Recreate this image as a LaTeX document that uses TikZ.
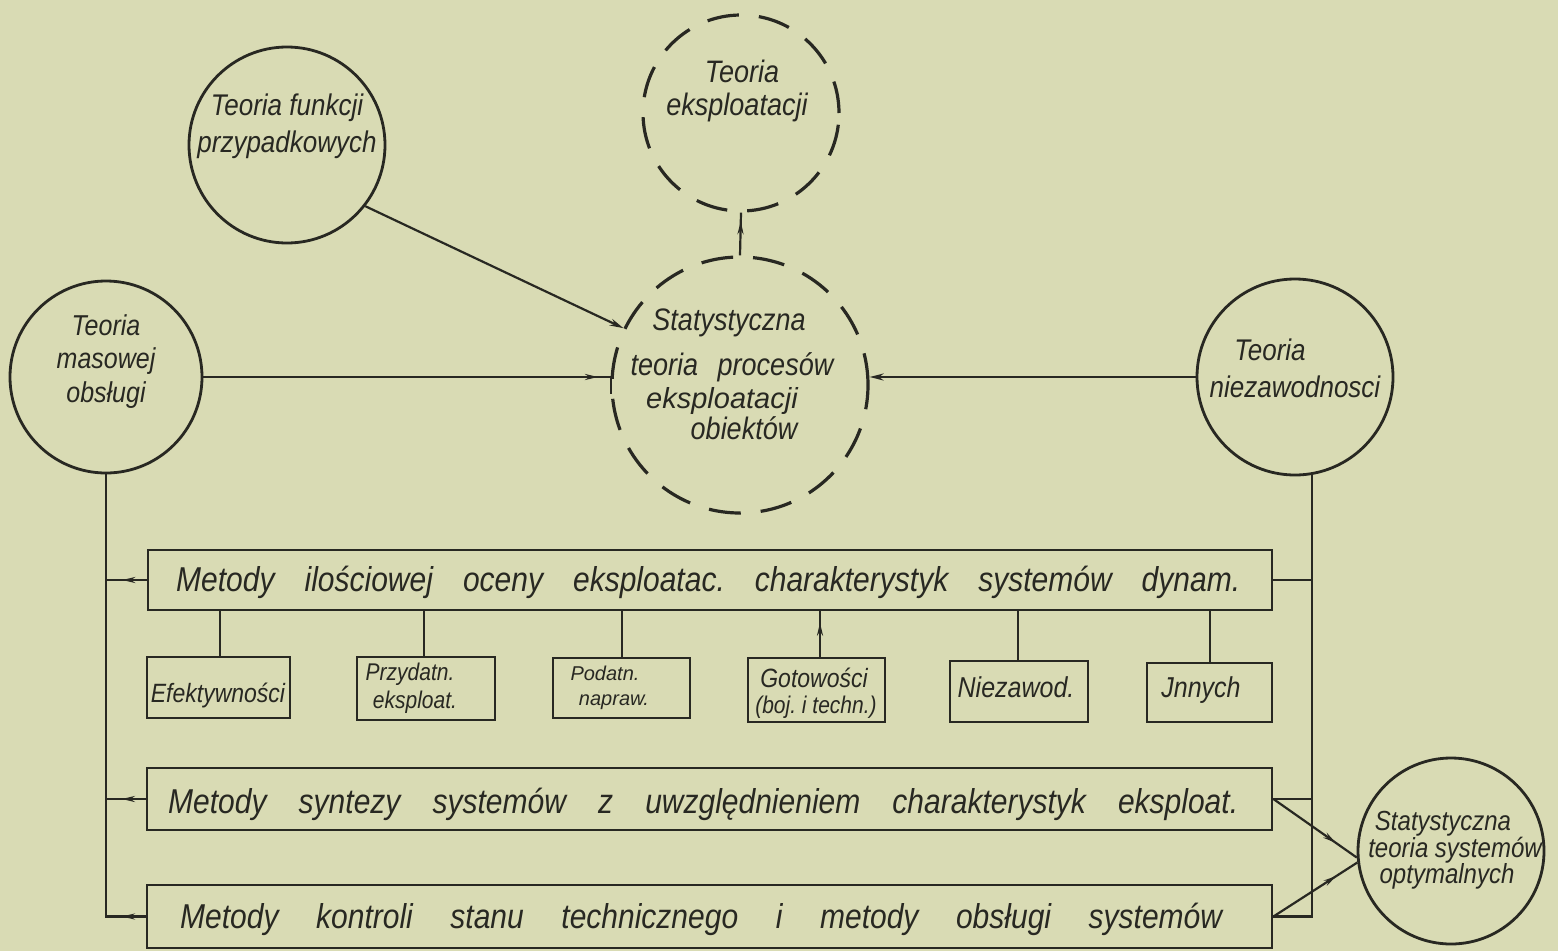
\documentclass[tikz,border=0pt]{standalone}
\usepackage{fontspec}
\setmainfont{Liberation Sans}
\usetikzlibrary{arrows.meta,decorations.markings}
\definecolor{paper}{RGB}{217,219,180}
\definecolor{ink}{RGB}{40,40,34}
\newcommand\tallx[1]{\scalebox{1}[1.15]{#1}}
\frenchspacing
\begin{document}
\begin{tikzpicture}[x=1pt,y=-1pt,
  solidcirc/.style={draw=ink,line width=2.8pt,circle,inner sep=0pt},
  dashcirc/.style={draw=ink,line width=3.2pt,circle,inner sep=0pt,dash pattern=on 32pt off 20pt},
  box/.style={draw=ink,line width=2.8pt,rectangle,inner sep=0pt},
  conn/.style={color=ink,line width=2.2pt},
  midarrow/.style={postaction={decorate},decoration={markings,mark=at position #1 with {\arrow{Stealth[length=13pt,width=6pt]}}}},
  lbl/.style={text=ink,inner sep=0pt,anchor=base,font=\itshape\fontsize{26}{30}\selectfont},
  lblc/.style={text=ink,inner sep=0pt,anchor=base,font=\itshape\fontsize{27}{32}\selectfont},
  lbls/.style={text=ink,inner sep=0pt,anchor=base,font=\itshape\fontsize{23}{27}\selectfont},
  lblb/.style={text=ink,inner sep=0pt,anchor=base west,font=\itshape\fontsize{30}{35}\selectfont},
]
\fill[paper] (0,0) rectangle (1558,951);
\useasboundingbox (0,0) rectangle (1558,951);

% circles
\node[solidcirc, minimum size=196pt] (fun) at (287,145) {};
\node[dashcirc, minimum size=196pt] (eks) at (741,113) {};
\node[dashcirc, minimum size=256pt] (stp) at (740,385) {};
\node[solidcirc, minimum size=192pt] (mas) at (106,377) {};
\node[solidcirc, minimum size=196pt] (nie) at (1295,377) {};
\node[solidcirc, minimum size=186pt] (opt) at (1451,851) {};

% circle texts
\node[lbl] (fun1) at (287,115) {\tallx{Teoria funkcji}};
\node[lbl] (fun2) at (287,152) {\tallx{przypadkowych}};
\node[lbl, font=\itshape\fontsize{27}{31}\selectfont] (eks1) at (742,82) {\tallx{Teoria}};
\node[lbl, font=\itshape\fontsize{27}{31}\selectfont] (eks2) at (737,115) {\tallx{eksploatacji}};
\node[lblc] (stp1) at (729,330) {\tallx{Statystyczna}};
\node[lblc] (stp2) at (732,375) {\tallx{teoria\hspace{12pt} procesów}};
\node[lblc, font=\itshape\fontsize{29}{34}\selectfont] (stp3) at (722,408) {eksploatacji};
\node[lblc] (stp4) at (744,439) {\tallx{obiektów}};
\node[lbl, font=\itshape\fontsize{25}{29}\selectfont] (mas1) at (106,335) {\tallx{Teoria}};
\node[lbl, font=\itshape\fontsize{25}{29}\selectfont] (mas2) at (106,368) {\tallx{masowej}};
\node[lbl, font=\itshape\fontsize{25}{29}\selectfont] (mas3) at (106,402) {\tallx{obsługi}};
\node[lbl] (nie1) at (1270,360) {\tallx{Teoria}};
\node[lbl] (nie2) at (1295,397) {\tallx{niezawodnosci}};
\node[lbls, font=\itshape\fontsize{24}{28}\selectfont] (opt1) at (1443,830) {\tallx{Statystyczna}};
\node[lbls, font=\itshape\fontsize{24}{28}\selectfont] (opt2) at (1455,857) {\tallx{teoria systemów}};
\node[lbls, font=\itshape\fontsize{24}{28}\selectfont] (opt3) at (1447,883) {\tallx{optymalnych}};

% main boxes
\node[box, minimum width=1124pt, minimum height=60pt] (ilo) at (710,580) {};
\node[box, minimum width=1125pt, minimum height=62pt] (syn) at (709.5,799) {};
\node[box, minimum width=1125pt, minimum height=63pt] (kon) at (709.5,916.5) {};
\node[lblb] (ilot) at (176,591) {\tallx{\makebox[1064pt][s]{Metody ilościowej oceny eksploatac. charakterystyk systemów dynam.}}};
\node[lblb] (synt) at (168,813) {\tallx{\makebox[1070pt][s]{Metody syntezy systemów z uwzględnieniem charakterystyk eksploat.}}};
\node[lblb] (kont) at (180,928) {\tallx{\makebox[1042pt][s]{Metody kontroli stanu technicznego i metody obsługi systemów}}};

% sub boxes
\node[box, minimum width=143pt, minimum height=61pt] (efe) at (218.5,687.5) {};
\node[box, minimum width=138pt, minimum height=63pt] (prz) at (426,688.5) {};
\node[box, minimum width=137pt, minimum height=60pt] (pod) at (621.5,688) {};
\node[box, minimum width=137pt, minimum height=64pt] (got) at (816.5,690) {};
\node[box, minimum width=138pt, minimum height=61pt] (nzw) at (1019,691.5) {};
\node[box, minimum width=125pt, minimum height=59pt] (inn) at (1209.5,692.5) {};
\node[lbls] (efet) at (218,702) {\tallx{Efektywności}};
\node[lbls, font=\itshape\fontsize{21}{25}\selectfont] (prz1) at (410,680) {\tallx{Przydatn.}};
\node[lbls, font=\itshape\fontsize{21}{25}\selectfont] (prz2) at (415,708) {\tallx{eksploat.}};
\node[lbls, font=\itshape\fontsize{20}{24}\selectfont] (pod1) at (605,680) {Podatn.};
\node[lbls, font=\itshape\fontsize{20}{24}\selectfont] (pod2) at (614,705) {napraw.};
\node[lbls] (got1) at (814,687) {\tallx{Gotowości}};
\node[lbls, font=\itshape\fontsize{21}{25}\selectfont] (got2) at (816,713) {\tallx{(boj. i techn.)}};
\node[lbls, font=\itshape\fontsize{25}{29}\selectfont] (nzwt) at (1016,697) {\tallx{Niezawod.}};
\node[lbls, font=\itshape\fontsize{25}{29}\selectfont] (innt) at (1201,697) {\tallx{Jnnych}};

% connectors between circles
\draw[conn, -{Stealth[length=14pt,width=7pt]}] (fun.-38) -- (stp.154);
\draw[conn, midarrow=0.93] (mas.east) -- (mas.east -| stp.184) -- (stp.184);
\draw[conn, -{Stealth[length=14pt,width=7pt]}] (nie.west) -- (nie.west -| stp.east);
\draw[conn, midarrow=0.8] (stp.north) -- (eks.south);

% left trunk
\draw[conn] (mas.south) |- (kon.west);
\draw[conn, midarrow=0.6] (ilo.west) -- (ilo.west -| mas.south);
\draw[conn, midarrow=0.6] (syn.west) -- (syn.west -| mas.south);
\draw[conn, midarrow=0.6] (kon.west) -- (kon.west -| mas.south);

% right trunk
\draw[conn] (nie.-80) -- (nie.-80 |- kon.east) -- (kon.east);
\draw[conn] (ilo.east) -- (ilo.east -| nie.-80);
\draw[conn] (syn.east) -- (syn.east -| nie.-80);

% to optimal systems circle
\draw[conn, midarrow=0.75] (syn.east) -- (opt.184);
\draw[conn, midarrow=0.75] (kon.east) -- (opt.187);

% sub-box links
\draw[conn] (efe.north -| 220,0) -- (ilo.south -| 220,0);
\draw[conn] (prz.north -| 424,0) -- (ilo.south -| 424,0);
\draw[conn] (pod.north -| 622,0) -- (ilo.south -| 622,0);
\draw[conn, midarrow=0.75] (got.north -| 820,0) -- (ilo.south -| 820,0);
\draw[conn] (nzw.north -| 1018,0) -- (ilo.south -| 1018,0);
\draw[conn] (inn.north -| 1210,0) -- (ilo.south -| 1210,0);
\end{tikzpicture}
\end{document}
